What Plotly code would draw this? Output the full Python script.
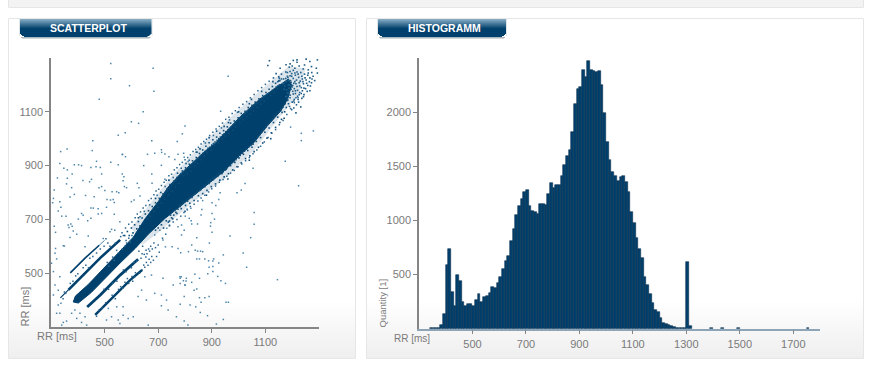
import plotly.graph_objects as go

W, H = 894, 366

# ---------- data ----------
scatter_ticks = [500, 700, 900, 1100]
hist_x_ticks = [500, 700, 900, 1100, 1300, 1500, 1700]
hist_y_ticks = [500, 1000, 1500, 2000]

core_band = [(383,393),(391,415),(439,458),(495,516),(551,574),(607,634),(651,702),(700,766),(737,820),
             (782,868),(830,912),(868,948),(912,982),(1006,1082),(1080,1148),(1143,1194),(1186,1222),(1198,1200),
             (1184,1150),(1158,1104),(1106,1046),(1054,982),(1006,940),(942,876),(856,808),(812,774),
             (726,704),(663,645),(614,592),(558,538),(506,484),(450,428),(402,389),(383,393)]
halo_band = [(600,670),(750,860),(870,985),(1000,1108),(1105,1200),(1185,1268),(1250,1262),(1225,1170),
             (1150,1075),(1060,960),(950,852),(820,756),(700,650),(640,605),(600,670)]
stripe_a = [(372,501),(428,557),(480,604)]
stripe_a_tail = [(480,604),(500,622)]
stripe_b = [(365,438),(409,482),(484,557),(558,624)]
stripe_b_head = [(335,408),(365,438)]
stripe_c = [(435,374),(484,419),(558,493),(625,552)]
stripe_d = [(465,345),(521,400),(596,475),(640,512)]

outliers = [
 (523,1280),(681,1262),(523,1223),(593,1197),(684,1176),(480,1147),(644,1100),(600,1063),(627,1057),(800,1047),
 (551,1013),(577,1022),(790,1018),(456,992),(676,992),(771,990),(712,959),(454,956),(360,962),(336,952),
 (687,946),(713,949),(660,942),(567,942),(795,946),(774,942),(566,941),(578,933),(725,943),(740,933),
 (762,923),(797,931),(812,915),(333,908),(387,903),(403,903),(414,900),(470,916),(523,912),(449,893),
 (468,896),(484,893),(551,903),(646,900),(712,901),(361,884),(348,890),(379,869),(489,869),(566,869),
 (572,859),(676,869),(324,854),(361,853),(419,845),(451,849),(444,840),(569,844),(358,832),(622,834),
 (677,834),(489,822),(479,818),(574,822),(582,818),(377,818),(312,809),(628,818),(725,849),(545,803),
 (528,803),(501,807),(387,793),(371,783),(429,789),(461,784),(553,799),(532,774),(522,772),(509,774),
 (610,772),(632,787),(309,778),(306,762),(333,766),(536,763),(600,766),(327,731),(337,745),(449,742),
 (458,742),(476,740),(507,745),(476,720),(489,722),(414,722),(420,715),(340,712),(356,712),(402,701),
 (449,704),(437,695),(536,719),(557,691),(312,675),(364,679),(374,683),(379,675),(367,670),(383,657),
 (396,645),(317,652),(439,638),(371,633),(526,663),(538,660),(520,654),(495,629),(350,601),(317,592),
 (427,598),(732,667),(774,673),(787,642),(706,660),(687,642),(718,623),(752,598),(774,592),(727,598),
 (346,602),(315,574),(302,537),(309,506),(321,553),(333,487),(315,456),(327,437),(309,419),(337,388),
 (327,382),(333,351),(321,351),(346,317),(340,307),(358,322),(377,351),(389,363),(408,351),(396,332),
 (427,338),(414,317),(433,307),(514,369),(545,375),(569,375),(526,338),(569,344),(588,332),(607,338),
 (557,313),(507,326),(551,326),(625,413),(638,437),(656,400),(687,425),(712,419),(731,400),(756,456),
 (781,487),(805,481),(799,456),(718,481),(675,493),(650,487),(712,379),(737,363),(663,307),(768,338),
 (1174,916),(1224,825),(1054,890),(1024,833),(931,799),(994,799),(1010,809),(901,762),(926,774),(866,770),
 (915,752),(863,737),(822,741),(809,735),(901,722),(1058,726),(801,712),(816,704),(860,716),(823,695),
 (847,683),(825,683),(910,701),(896,688),(895,675),(901,652),(1058,682),(787,679),(797,660),(968,638),
 (1045,632),(844,632),(891,612),(825,605),(784,576),(813,580),(838,585),(847,582),(858,582),(866,580),
 (1017,575),(943,568),(844,553),(854,553),(874,553),(888,546),(907,553),(904,545),(926,538),(890,522),
 (904,525),(1030,522),(885,498),(904,506),(837,496),(922,488),(854,481),(1145,476),(934,472),(951,462),
 (786,487),(782,481),(794,472),(804,471),(782,462),(825,466),(801,456),(844,441),(834,437),(797,413),
 (854,409),(874,409),(890,413),(860,392),(953,392),(962,392),(782,385),(819,382),(840,375),(857,354),
 (884,342),(943,328),(797,322),(811,307),(917,311),(961,1232),(933,1102),(1279,1029),(1194,1043),(1234,1020),(1234,993),
]
upper_fringe = [
 (575,640),(585,655),(592,640),(600,668),(606,650),(612,680),(620,665),(626,692),(632,676),(640,705),(645,688),
 (652,720),(660,702),(664,732),(670,712),(678,748),(684,730),(690,762),(698,745),(704,778),(712,760),(718,795),
 (724,775),(732,812),(738,792),(744,830),(752,805),(758,842),(764,820),(770,856),(778,835),(784,870),(790,880),
 (796,862),(802,892),(808,870),(816,905),(822,880),(828,918),(836,898),(842,930),(848,908),(854,945),(860,922),
 (866,958),(872,936),(878,972),(884,948),(890,985),(898,958),(904,996),(910,975),(918,1006),(924,985),(930,1020),
 (938,1000),(944,1030),(950,1010),(958,1044),(964,1020),(970,1058),(978,1032),(984,1066),(990,1044),(998,1078),
 (1004,1060),(1010,1094),(1016,1070),(1024,1102),(1030,1082),(1036,1116),(1044,1092),(1050,1124),(1056,1104),
 (1062,1136),(1070,1116),(1076,1148),(1082,1128),(1090,1160),(1096,1140),(1102,1172),(1108,1150),(1114,1184),
 (1120,1160),(1126,1194),(1132,1172),(1138,1206),(1145,1186),(1150,1215),(856,962),(890,1004),(946,1046),
 (1000,1100),(1040,1130),(1086,1176),(1128,1212),(804,908),(740,846),(690,778),(626,706),(1048,1146),(962,1060),
 (918,1028),(842,950),(772,872),(710,800),
 (706,772),(716,786),(726,798),(734,806),(742,816),(750,826),(756,834),(762,842),(768,848),(776,860),(782,866),
 (788,868),(794,876),(800,880),(806,888),(812,892),(818,896),(824,904),(830,908),(838,914),(844,922),(850,926),
 (856,934),(862,940),(868,946),(874,952),(880,956),(886,964),(892,968),(900,976),(906,982),(912,988),(920,994),
 (926,1000),(932,1006),(940,1014),(946,1018),(952,1026),(960,1032),(966,1038),(972,1044),(980,1052),(986,1056),
 (992,1064),(1000,1070),(1006,1076),(1012,1082),(1020,1090),(1026,1094),(1032,1100),(1040,1108),(1046,1112),
 (1052,1118),(1060,1124),(1066,1130),(1072,1134),(1080,1140),(1086,1146),(1094,1152),(1100,1158),(1106,1164),
 (1112,1168),(1120,1174),(1126,1180),(1134,1186),(1140,1192),(1146,1196),(1152,1200),
]
lower_fringe = [
 (690,660),(700,668),(712,680),(720,668),(730,695),(738,690),(746,716),(754,702),(762,735),(770,722),(778,752),
 (786,740),(794,766),(802,752),(810,768),(818,760),(826,782),(834,770),(842,798),(850,788),(858,810),(866,796),
 (874,822),(882,808),(890,834),(898,822),(906,848),(914,832),(922,860),(930,846),(938,870),(946,858),(954,886),
 (962,870),(970,900),(978,884),(986,912),(994,896),(1002,928),(1010,910),(1018,942),(1026,926),(1034,956),
 (1042,936),(1050,968),(1058,952),(1066,990),(1074,968),(1082,1004),(1090,984),(1098,1024),(1106,1002),(1114,1040),
 (1122,1022),(1130,1060),(1138,1042),(1146,1080),(1154,1060),(1162,1098),(1170,1076),(1178,1116),(1186,1130),
 (1172,1100),(1160,1072),(1120,1000),(1040,920),(960,850),(880,790),(800,730),(742,678),
 (742,694),(750,706),(758,716),(766,726),(774,738),(782,748),(790,756),(798,764),(806,772),(814,778),(822,784),
 (830,790),(838,796),(846,804),(854,808),(862,816),(870,824),(878,830),(886,838),(894,846),(902,852),(910,858),
 (918,866),(926,872),(934,878),(942,876),(950,884),(958,892),(966,900),(974,908),(982,914),(990,922),(998,930),
 (1006,938),(1014,946),(1022,954),(1030,962),(1038,970),(1046,976),(1054,980),(1062,994),(1070,1004),(1078,1014),
 (1086,1024),(1094,1034),(1102,1044),(1110,1054),(1118,1064),(1126,1074),(1134,1084),(1142,1092),(1150,1100),
 (1158,1108),(1166,1118),(1174,1130),(1182,1142),
]
outer_speckle = [
 (565,650),(578,668),(590,682),(602,690),(614,706),(622,720),(634,728),(644,742),(654,752),(664,770),(674,778),
 (684,792),(692,806),(702,812),(712,826),(722,838),(730,846),(740,862),(750,868),(760,884),(770,892),(780,904),
 (790,912),(800,922),(810,930),(820,940),(830,952),(840,960),(850,968),(860,980),(870,990),(880,998),(892,1012),
 (904,1024),(916,1036),(928,1046),(940,1058),(952,1072),(964,1080),(976,1094),(988,1104),(1002,1116),(1016,1128),
 (1030,1138),(1044,1152),(1058,1164),(1072,1178),(1086,1190),(1100,1202),(1114,1214),(632,710),(648,730),(668,754),
 (696,790),(726,822),(756,856),(786,890),(816,920),(846,950),(876,984),(906,1012),(936,1040),(966,1070),(996,1098),
 (742,676),(756,690),(770,700),(784,712),(796,726),(808,738),(820,748),(834,756),(848,768),(860,780),(874,790),
 (888,802),(900,814),(914,824),(928,838),(942,848),(956,860),(970,872),(984,882),(998,896),(1012,906),(1026,918),
 (1040,930),(1054,944),(1068,958),(1082,972),(1096,988),(1110,1004),(1124,1020),(1138,1034),(1152,1052),(1166,1068),
 (1180,1090),(1194,1112),(1208,1134),(1222,1152),
]
top_cluster = [
 (1115,1290),(1109,1272),(1192,1278),(1204,1291),(1218,1293),(1218,1284),(1252,1296),(1266,1287),(1294,1293),
 (1290,1262),(1294,1244),(1155,1262),(1177,1275),(1189,1266),(1210,1262),(1241,1259),(1260,1256),(1273,1246),
 (1150,1230),(1160,1240),(1168,1222),(1176,1248),(1184,1228),(1192,1250),(1198,1232),(1204,1254),(1212,1236),
 (1218,1248),(1224,1228),(1232,1246),(1238,1222),(1246,1240),(1252,1218),(1258,1236),(1266,1226),(1272,1208),
 (1278,1232),(1284,1216),(1178,1212),(1186,1200),(1194,1216),(1202,1198),(1210,1212),(1218,1194),(1226,1208),
 (1234,1190),(1242,1204),(1250,1186),(1258,1198),(1266,1178),(1172,1196),(1180,1182),(1188,1170),(1196,1184),
 (1204,1166),(1212,1178),(1220,1158),(1228,1172),(1236,1150),(1244,1164),(1176,1156),(1184,1144),(1192,1152),
 (1200,1136),(1208,1146),(1216,1126),(1224,1136),(1232,1118),(1190,1120),(1198,1108),(1206,1114),(1214,1096),
 (1154,1216),(1164,1204),(1170,1184),(1182,1232),(1200,1270),(1226,1270),(1246,1274),(1272,1268),(1130,1226),(1140,1242),
 (1190,1200),(1196,1210),(1200,1192),(1204,1224),(1208,1186),(1214,1204),(1216,1218),(1220,1180),(1222,1240),
 (1228,1196),(1230,1214),(1236,1232),(1238,1178),(1240,1212),(1244,1188),(1248,1226),(1254,1206),(1256,1176),
 (1260,1244),(1264,1212),(1268,1196),(1274,1222),(1176,1224),(1182,1246),(1186,1216),(1192,1234),(1196,1196),
 (1198,1242),(1206,1206),(1210,1244),(1212,1168),(1226,1164),(1234,1168),(1242,1156),(1182,1170),(1192,1162),
 (1202,1176),(1206,1140),(1214,1152),(1222,1146),(1180,1158),(1188,1188),(1168,1206),(1160,1222),(1152,1224),(1146,1212),
]
stripe_fuzz = [
 (560,636),(570,640),(580,622),(590,630),(540,612),(520,600),(505,628),(512,612),(498,600),(484,590),(470,575),
 (456,562),(445,556),(430,530),(420,520),(400,498),(392,490),(382,470),(372,462),(355,425),(350,430),(345,405),
 (640,572),(655,585),(664,590),(672,600),(684,612),(620,545),(610,540),(600,520),(580,505),(570,512),(546,470),
 (530,462),(515,440),(498,440),(662,530),(672,540),(682,548),(694,562),(704,578),(640,512),(630,500),(615,502),
 (605,470),(585,480),(568,444),(552,440),(540,405),(528,418),(504,390),(490,372),(478,362),(470,340),(642,600),
 (628,582),(654,560),(690,595),(700,605),(716,630),(728,645),(510,540),(530,560),(545,585),(575,600),(440,520),
 (636,556),(648,570),(658,572),(668,582),(678,590),(646,530),(656,540),(666,552),(676,562),(650,522),(612,486),
 (602,488),(590,462),(576,466),(560,450),(516,526),(536,548),(552,576),(566,590),(582,612),(596,616),(602,640),
]
# bin left edge every 10 ms from 340
hist_bins = list(range(340, 1320, 10)) + [1390, 1430, 1490, 1750]
hist_vals = [6,6,6,6,37,135,590,735,335,212,492,440,250,212,228,228,209,265,317,250,295,301,326,385,378,421,477,550,
             627,667,809,922,1049,1135,1202,1264,1279,1135,1089,1076,1061,1150,1156,1141,1242,1347,1304,1331,1331,
             1408,1516,1593,1648,1814,2079,2211,2232,2392,2325,2469,2392,2377,2371,2377,2248,1993,1725,1556,1448,
             1414,1365,1402,1408,1356,1264,1079,972,839,738,649,474,400,317,234,172,151,101,52,46,34,25,15,10,10,10,
             10,615,25,8,8,8,8]

DARK = "#00406c"
AXIS = "#858585"
TEXT = "#7a7a7a"
FONT = "Liberation Sans"

# ---------- page furniture helpers ----------
shapes = []
def rect(x0, y0, x1, y1, fill, line=None):
    shapes.append(dict(type="rect", xref="paper", yref="paper", layer="below",
                       x0=x0/W, x1=x1/W, y0=1-y1/H, y1=1-y0/H, fillcolor=fill,
                       line=dict(color=line or fill, width=1 if line else 0)))

def lerp(a, b, t):
    return "rgb(%d,%d,%d)" % tuple(round(a[i]+(b[i]-a[i])*t) for i in range(3))

rect(8.5, -2, 863.5, 7.5, "#f3f3f3", "#e6e6e6")
for (l, r) in ((8.5, 355.5), (366.5, 863.5)):
    rect(l, 18.5, r, 358.5, "#ffffff", "#e6e6e6")
    for y in range(300, 358):
        rect(l+0.5, y, r-0.5, y+1, lerp((255,255,255), (239,239,239), (y-300)/57))

def button(l, r):
    rect(l+1, 37, r-1, 38, "#a9b7c1")
    rect(l+2, 38, r-2, 39, "#d4d8db")
    rect(l-1, 19, l, 36, "#dfe6ea")
    rect(r, 19, r+1, 36, "#dfe6ea")
    for y in range(19, 37):
        t = min((y-19)/9, 1)
        inset = {36: 4, 35: 2, 34: 1}.get(y, 0)
        rect(l+inset, y, r-inset, y+1, lerp((132,170,194), (0,64,108), t))

button(20, 151.5)
button(378, 506)

# ---------- traces ----------
fig = go.Figure()
def xy(p):
    return [a for a, _ in p], [b for _, b in p]

hx, hy = xy(halo_band)
fig.add_trace(go.Scatter(x=hx, y=hy, mode="lines", fill="toself", fillcolor="rgba(0,64,108,0.14)",
                         line=dict(width=0), xaxis="x", yaxis="y", hoverinfo="skip"))
for s, w, col in ((stripe_a, 1.6, DARK), (stripe_a_tail, 1, "#4d86ab"), (stripe_b, 2.6, DARK), (stripe_b_head, 1.2, DARK),
                  (stripe_c, 2.8, DARK), (stripe_d, 2.4, DARK)):
    sx, sy = xy(s)
    fig.add_trace(go.Scatter(x=sx, y=sy, mode="lines", line=dict(color=col, width=w), xaxis="x", yaxis="y"))
cx, cy = xy(core_band)
fig.add_trace(go.Scatter(x=cx, y=cy, mode="lines", fill="toself", fillcolor=DARK,
                         line=dict(color=DARK, width=1), xaxis="x", yaxis="y"))
for pts, col, sz in ((upper_fringe, "#0f4d78", 1.6), (lower_fringe, "#0f4d78", 1.6), (outer_speckle, "#2a6590", 1.5),
                     (top_cluster, "#1f5d88", 1.6), (stripe_fuzz, "#2a6590", 1.5), (outliers, "#4d86ab", 1.5)):
    px_, py_ = xy(pts)
    fig.add_trace(go.Scatter(x=px_, y=py_, mode="markers", xaxis="x", yaxis="y",
                             marker=dict(symbol="square", size=sz, color=col, line=dict(width=0))))

fig.add_trace(go.Bar(x=hist_bins, y=hist_vals, width=10, offset=0, xaxis="x2", yaxis="y2",
                     marker=dict(color=DARK, line=dict(color="#0c3350", width=0.6))))

common = dict(showgrid=False, zeroline=False, showline=True, linecolor=AXIS, linewidth=1.5, ticks="outside",
              ticklen=4, tickcolor=AXIS, tickwidth=1, tickfont=dict(family=FONT, size=11, color=TEXT))

xaxis2_style = dict(common, linecolor="#8ea5b7")

fig.update_layout(
    width=W, height=H, margin=dict(l=0, r=0, t=0, b=0), autosize=False,
    paper_bgcolor="white", plot_bgcolor="rgba(0,0,0,0)", showlegend=False, bargap=0, shapes=shapes,
    xaxis=dict(domain=[51/W, 319/W], range=[300, 1300], tickvals=scatter_ticks, anchor="y", **common),
    yaxis=dict(domain=[1-327/H, 1-58/H], range=[300, 1300], tickvals=scatter_ticks, anchor="x", **common),
    xaxis2=dict(domain=[419/W, 820/W], range=[300, 1800], tickvals=hist_x_ticks, anchor="y2", **xaxis2_style),
    yaxis2=dict(domain=[1-328.7/H, 1-58/H], range=[0, 2500], tickvals=hist_y_ticks, anchor="x2", **common),
    annotations=[
        dict(text="<b>SCATTERPLOT</b>", x=88/W, y=1-28/H, font=dict(family=FONT, size=10.5, color="white")),
        dict(text="<b>HISTOGRAMM</b>", x=444/W, y=1-28/H, font=dict(family=FONT, size=10.5, color="white")),
        dict(text="RR [ms]", x=57/W, y=1-336/H, font=dict(family=FONT, size=11, color=TEXT)),
        dict(text="RR [ms]", x=412/W, y=1-338.5/H, font=dict(family=FONT, size=10, color=TEXT)),
        dict(text="RR [ms]", x=24.5/W, y=1-307/H, textangle=-90, font=dict(family=FONT, size=11, color=TEXT)),
        dict(text="Quantity [1]", x=381.5/W, y=1-303/H, textangle=-90, font=dict(family=FONT, size=9.5, color=TEXT)),
    ],
)
for a in fig.layout.annotations:
    a.update(xref="paper", yref="paper", showarrow=False, xanchor="center", yanchor="middle")

fig.write_html("out.html", config={"displayModeBar": False}, post_script="document.body.style.margin='0';")
